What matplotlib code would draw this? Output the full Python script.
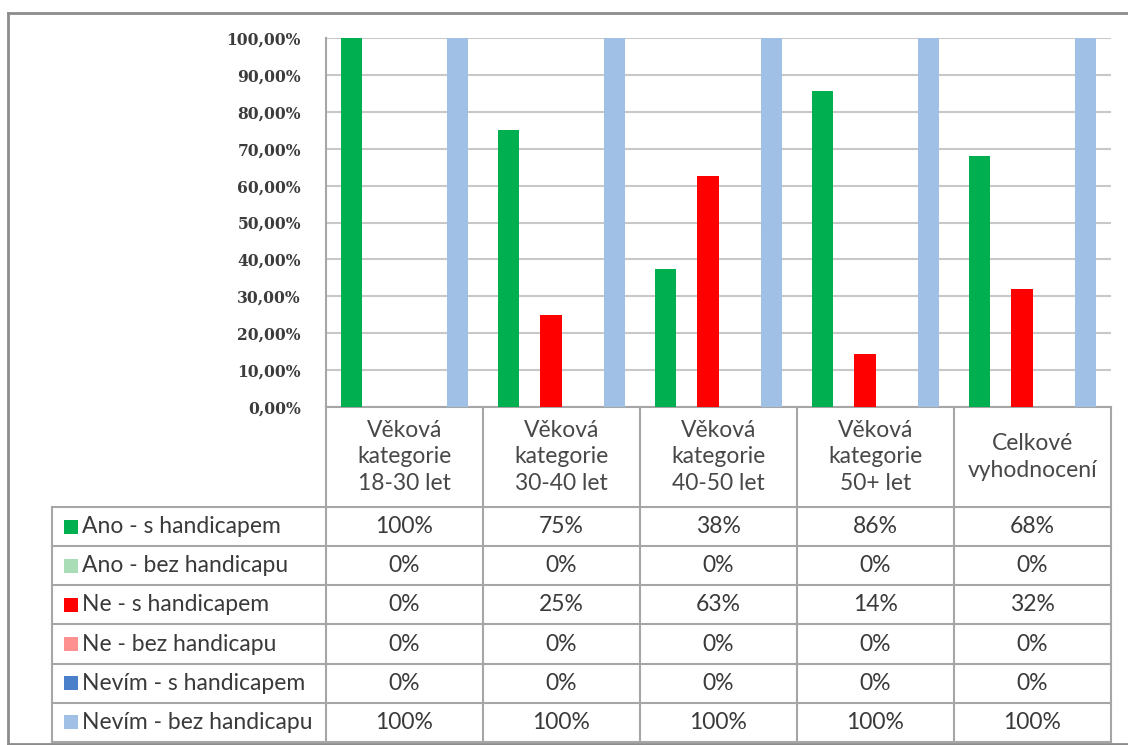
import numpy as np
import matplotlib
matplotlib.use("Agg")
import matplotlib.pyplot as plt
from matplotlib.lines import Line2D
from matplotlib.ticker import FuncFormatter

# data
categories = ["Věková\nkategorie\n18-30 let", "Věková\nkategorie\n30-40 let",
              "Věková\nkategorie\n40-50 let", "Věková\nkategorie\n50+ let",
              "Celkové\nvyhodnocení"]
series_names = ["Ano - s handicapem", "Ano - bez handicapu", "Ne - s handicapem",
                "Ne - bez handicapu", "Nevím - s handicapem", "Nevím - bez handicapu"]
ano_s = [1.00, 0.75, 0.375, 0.857, 0.68]
ano_bez = [0, 0, 0, 0, 0]
ne_s = [0, 0.25, 0.625, 0.143, 0.32]
ne_bez = [0, 0, 0, 0, 0]
nevim_s = [0, 0, 0, 0, 0]
nevim_bez = [1.00, 1.00, 1.00, 1.00, 1.00]
table_labels = [["100%", "75%", "38%", "86%", "68%"],
                ["0%", "0%", "0%", "0%", "0%"],
                ["0%", "25%", "63%", "14%", "32%"],
                ["0%", "0%", "0%", "0%", "0%"],
                ["0%", "0%", "0%", "0%", "0%"],
                ["100%", "100%", "100%", "100%", "100%"]]
yticks = np.arange(0, 1.01, 0.1)

series = [ano_s, ano_bez, ne_s, ne_bez, nevim_s, nevim_bez]
colors = ["#00B050", "#A8DDB5", "#FF0000", "#FF9090", "#4A7FC9", "#A0C0E6"]
W, H = 1128, 745
grid_c = "#C8C8C8"
line_c = "#A6A6A6"
txt_c = "#3A3A3A"
tfont = ["Lato", "DejaVu Sans"]

fig = plt.figure(figsize=(W / 100, H / 100), dpi=100)
fig.patch.set_facecolor("white")

def px(l, t, r, b):
    return [l / W, 1 - b / H, (r - l) / W, (b - t) / H]

# chart
ax = fig.add_axes(px(326, 38, 1111, 407))
x = np.arange(len(categories))
bw = 0.135
for i, (vals, c) in enumerate(zip(series, colors)):
    ax.bar(x + (i - 2.5) * bw, vals, width=bw, color=c, zorder=3, linewidth=0)
ax.set_xlim(-0.5, len(categories) - 0.5)
ax.set_ylim(0, 1)
ax.set_yticks(yticks)
ax.yaxis.set_major_formatter(FuncFormatter(lambda v, p: f"{v * 100:.2f}%".replace(".", ",")))
ax.grid(axis="y", color=grid_c, linewidth=1.5, zorder=0)
ax.set_xticks([])
for s in ["top", "right"]:
    ax.spines[s].set_visible(False)
for s in ["left", "bottom"]:
    ax.spines[s].set_color(line_c)
    ax.spines[s].set_linewidth(1.5)
ax.tick_params(axis="y", length=0, pad=18, colors="#3C3C3C")
for lab in ax.get_yticklabels():
    lab.set_fontfamily("DejaVu Serif")
    lab.set_fontweight("bold")
    lab.set_fontsize(11.2)

# data table
legend_w = (326 - 52) / 157
hdr = 100 / 39.2
nrows = len(series_names)
tb = fig.add_axes(px(52, 407, 1111, 742))
tb.set_xlim(-0.5 - legend_w, len(categories) - 0.5)
tb.set_ylim(hdr + nrows, 0)
tb.axis("off")
left = -0.5 - legend_w
right = len(categories) - 0.5
kw = dict(color=line_c, linewidth=1.5, clip_on=False)
for k in range(len(categories) + 1):
    tb.plot([k - 0.5, k - 0.5], [0, hdr + nrows], **kw)
tb.plot([left, left], [hdr, hdr + nrows], **kw)
for r in range(nrows + 1):
    tb.plot([left, right], [hdr + r, hdr + r], **kw)

for j, cat in enumerate(categories):
    tb.text(j, hdr / 2, cat, ha="center", va="center", fontsize=16.5,
            family=tfont, color="#484848", linespacing=1.3)
for r, name in enumerate(series_names):
    yc = hdr + r + 0.5
    tb.scatter([left + 0.12], [yc], marker="s", s=110, color=colors[r], clip_on=False, linewidths=0)
    tb.text(left + 0.19, yc, name, ha="left", va="center", fontsize=16.5,
            family=tfont, color=txt_c)
    for j, v in enumerate(table_labels[r]):
        tb.text(j, yc, v, ha="center", va="center", fontsize=16.5, family=tfont, color=txt_c)

# outer frame
fc = "#8C8C8C"
fig.add_artist(Line2D([8 / W, 8 / W], [1 - 13 / H, 1 - 744 / H], color=fc, linewidth=2))
fig.add_artist(Line2D([8 / W, 1], [1 - 13 / H, 1 - 13 / H], color=fc, linewidth=2))
fig.add_artist(Line2D([8 / W, 1], [1 - 744 / H, 1 - 744 / H], color=fc, linewidth=2))

fig.savefig("out.png", dpi=100)
